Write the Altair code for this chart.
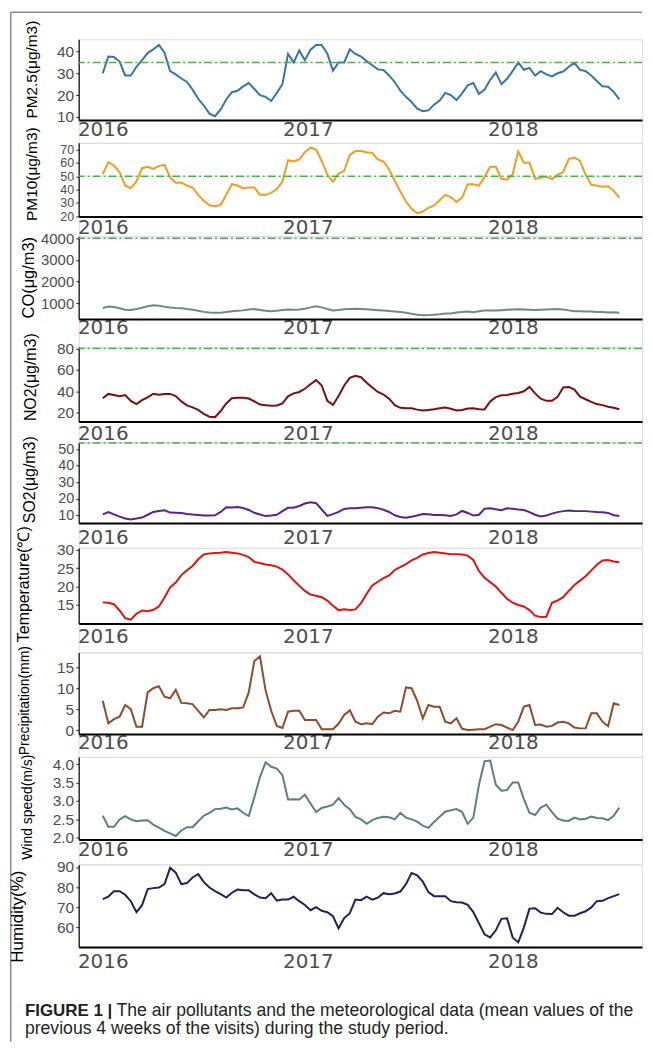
import altair as alt
import pandas as pd

# ---------------- data (10-day sampling grid) ----------------
START = "2016-01-01"
N_POINTS = 93
dates = pd.date_range(START, periods=N_POINTS, freq="10D")
years = [2016 + (d - pd.Timestamp(START)).days / 365.25 for d in dates]

pm25 = [30, 37.7, 37.5, 35.4, 29, 29, 33, 36, 39.3, 41, 43, 39.5, 31, 29.5, 27.6, 26, 22.5, 18.3, 15.2, 11.5,
        10.3, 13.4, 18, 21.3, 22, 24, 25.5, 22.8, 20, 19.2, 17.3, 21, 25, 38.9, 35, 40.5, 36, 40.8, 43, 43,
        39, 31.2, 35, 35, 41, 38.9, 37.7, 35.6, 33.7, 31.8, 31.5, 29, 26, 22, 19.2, 16.8, 13.8, 12.6, 13, 15.6,
        17.5, 21, 20, 17.7, 20.8, 24.5, 25.5, 20.5, 22.5, 27, 30.4, 25, 27.5, 31, 35, 31.6, 32.5, 29, 31, 29.5,
        28.6, 30, 30.8, 33, 34.8, 31.6, 31, 29, 26.5, 24, 23.8, 21.5, 18]
pm10 = [51.5, 60.5, 58, 53, 43, 41, 46, 56, 57, 55.5, 57.7, 58.5, 49, 45, 45.2, 43, 41.5, 36, 31.5, 28.2,
        27.4, 28.5, 36, 44, 43, 40.8, 41.6, 41.5, 36, 36, 37.5, 40.4, 46, 62, 61, 62.5, 68, 71.5, 70, 61.4,
        51, 46, 52, 54, 66, 68.8, 68.8, 68, 67.5, 62.6, 61, 55, 46.6, 38.5, 31, 25.5, 22.2, 23.5, 26.3, 28.1,
        32, 36, 34.3, 30.6, 34, 44, 44, 42.9, 49.5, 57, 57, 48, 47.5, 51.5, 68.5, 60, 60, 48, 49, 49.5,
        47.8, 51, 53, 63, 64, 61.4, 51, 43.5, 43, 42, 42.5, 39, 34]
co = [770, 840, 820, 760, 690, 680, 720, 780, 850, 900, 880, 830, 790, 770, 760, 720, 690, 640, 590, 560,
      550, 545, 580, 620, 640, 660, 700, 720, 680, 640, 620, 640, 680, 700, 690, 700, 740, 800, 850, 800,
      720, 660, 680, 710, 720, 730, 720, 710, 690, 670, 650, 630, 610, 580, 550, 500, 460, 430, 440, 460,
      480, 510, 520, 560, 590, 610, 570, 620, 650, 650, 650, 670, 690, 700, 710, 700, 690, 680, 690, 700,
      710, 720, 700, 660, 620, 620, 610, 610, 590, 580, 560, 570, 550]
no2 = [33.5, 37.5, 36.5, 35.3, 36.5, 31, 28, 31.6, 34.2, 37.7, 36.8, 37.5, 37.5, 35.5, 30.5, 26.8, 24.9, 22.5,
       18.8, 16.2, 15.8, 21.5, 28.6, 33.5, 34, 34, 33.2, 30.5, 27.5, 27, 26.5, 26.7, 28.6, 35.2, 38, 39.3,
       42.3, 46.5, 50.4, 45.4, 31, 27.2, 35.5, 45.4, 52.5, 54.5, 53.1, 48, 43.5, 39.3, 36.9, 33, 27, 24.5,
       24, 24, 22.8, 22, 22.5, 23.1, 24, 24.7, 23.6, 22, 22.5, 23.8, 24, 23.1, 23, 30.5, 34.5, 36.2, 36.5,
       37.6, 38.4, 40, 44, 38, 33, 31, 31, 34.7, 43.5, 44, 41.5, 35, 32.5, 30.1, 28, 27, 25.5, 24.5, 23.2]
so2 = [10.5, 11.9, 10.5, 9.2, 8, 7.5, 8, 8.6, 10.3, 12, 12.6, 13, 11.6, 11.5, 11.3, 10.8, 10.4, 10.2, 9.9, 9.9,
       10, 12, 14.9, 14.7, 15, 14.4, 13.2, 11.5, 10.5, 9.5, 9.8, 10.3, 12.5, 14.5, 14.6, 15.6, 17.1, 17.9,
       17.3, 13.5, 9.6, 10.7, 12, 13.8, 14.2, 14.2, 14.5, 14.8, 14.8, 14.3, 13.3, 12, 10, 9, 8.5, 9.1, 9.9,
       10.8, 10.6, 10.1, 10.2, 10, 9.6, 10.5, 12.6, 11.4, 9.8, 10.3, 13.9, 14.2, 13.6, 13.1, 14.2, 14, 13.5,
       13.2, 11.9, 10.3, 9.3, 9.9, 11, 11.9, 12.5, 12.9, 12.6, 12.5, 12.5, 12.2, 11.9, 11.8, 11.4, 10, 9.5]
temp = [15.7, 15.6, 15.2, 13.5, 11.4, 11, 12.6, 13.5, 13.3, 13.7, 14.6, 17, 19.8, 21.1, 23.1, 24.4, 25.6, 27.4,
        28.7, 29, 29.1, 29.2, 29.4, 29.2, 29, 28.6, 28, 26.7, 26.4, 26, 25.8, 25.4, 24.6, 23.3, 21.7, 20.2,
        18.8, 17.8, 17.5, 17.1, 16.2, 14.8, 13.6, 13.8, 13.6, 13.8, 15.5, 18, 20.3, 21.3, 22.3, 23, 24.5,
        25.3, 26.1, 27.1, 27.8, 28.7, 29.1, 29.4, 29.2, 29, 28.8, 28.8, 28.7, 28.4, 27.2, 24.2, 22.4, 21.2,
        20, 18.3, 16.7, 15.6, 15, 14.6, 13.6, 12.1, 11.7, 11.8, 15.6, 16.2, 17.1, 18.8, 20.4, 21.6, 22.8,
        24.4, 25.9, 27.1, 27.2, 26.8, 26.6]
precip = [7, 1.6, 2.6, 3.2, 6, 5, 0.8, 0.8, 9, 10, 10.5, 8, 7.6, 9.6, 6.5, 6.4, 6.2, 4.6, 3, 4.8, 4.8, 5, 4.8,
          5.2, 5.2, 5.4, 9, 16.5, 17.6, 9.5, 4.6, 1, 0.5, 4.4, 4.6, 4.6, 2.4, 2.4, 2.4, 0.2, 0.2, 0.2, 1.5,
          3.6, 4.7, 2, 1.4, 1.6, 1.4, 3.2, 4.2, 4, 4.6, 4.4, 10.2, 10, 7, 2.8, 6, 5.6, 5.6, 2, 1.6, 2.8, 0.3,
          0, 0.1, 0.2, 0.2, 0.8, 1.4, 1.2, 0.6, 0, 2, 5.6, 6, 1.2, 1.3, 0.8, 1, 1.8, 2, 1.6, 0.6, 0.4, 0.4,
          4, 4, 2, 0.9, 6.4, 6]
wind = [2.6, 2.3, 2.3, 2.5, 2.59, 2.5, 2.45, 2.47, 2.48, 2.36, 2.28, 2.19, 2.12, 2.05, 2.2, 2.29, 2.29, 2.45,
        2.6, 2.68, 2.78, 2.79, 2.82, 2.77, 2.8, 2.68, 2.59, 3.1, 3.65, 4.05, 3.93, 3.88, 3.7, 3.04, 3.05,
        3.04, 3.17, 2.93, 2.7, 2.81, 2.85, 2.9, 3.08, 2.9, 2.78, 2.57, 2.5, 2.38, 2.48, 2.54, 2.57, 2.56,
        2.5, 2.68, 2.55, 2.5, 2.44, 2.33, 2.27, 2.43, 2.57, 2.71, 2.75, 2.78, 2.7, 2.38, 2.55, 3.44, 4.08,
        4.1, 3.44, 3.28, 3.3, 3.5, 3.5, 3.05, 2.68, 2.62, 2.82, 2.9, 2.7, 2.52, 2.47, 2.46, 2.55, 2.5, 2.52,
        2.58, 2.54, 2.53, 2.48, 2.6, 2.82]
humid = [74, 75.3, 78, 78, 76.2, 73, 67.5, 71, 79, 79.5, 79.8, 81.5, 89.6, 87.2, 81.5, 82, 84.8, 86.5, 82.5,
         79.8, 78, 76.5, 74.8, 77.2, 78.8, 78.5, 78.4, 76.4, 74.8, 74.5, 77, 73.3, 73.8, 73.8, 75.2, 73,
         71.1, 68.5, 70, 68.2, 67.5, 65.5, 59.5, 64.6, 67, 73.8, 73.5, 75.3, 73.8, 74.8, 77, 76.5, 76.8,
         77.8, 81.5, 87, 85.9, 82.7, 77.5, 75.5, 75.4, 75.4, 73, 72.5, 72.3, 71.2, 67.6, 62, 56.5, 55, 58.5,
         64.2, 64.5, 55, 52.5, 60, 69.3, 69.5, 67.3, 66.7, 66.6, 69.7, 67.5, 65.8, 65.7, 67, 68, 69.9, 73,
         73.2, 74.5, 75.5, 76.5]

year_ticks = [2016, 2017, 2018]

# ---------------- layout (page pixels) ----------------
PLOT_LEFT = 77
PLOT_RIGHT = 643
W = PLOT_RIGHT - PLOT_LEFT
X_DOMAIN = [2015.8826, 2018.6294]
FONT = "Liberation Sans"

panels = [
    dict(title="PM2.5(μg/m3)", vals=pm25, color="#3774AA", dom=[8.6, 45.6], ticks=[10, 20, 30, 40],
         hline=35, top=36, h=81, slot=104, xlab=10, tx=30, ty=66, tfs=15.5, lfs=15.5),
    dict(title="PM10(μg/m3)", vals=pm10, color="#F39C1F", dom=[19.8, 75], ticks=[20, 30, 40, 50, 60, 70],
         hline=50, top=140, h=74, slot=94, xlab=11, tx=30, ty=171, tfs=15.5, lfs=12.5),
    dict(title="CO(μg/m3)", vals=co, color="#6F8A85", dom=[261, 4092], ticks=[1000, 2000, 3000, 4000],
         hline=4000, top=234, h=83, slot=111, xlab=9, tx=27, ty=275, tfs=16.5, lfs=15),
    dict(title="NO2(μg/m3)", vals=no2, color="#7A0F12", dom=[11.7, 81.5], ticks=[20, 40, 60, 80],
         hline=80, top=345, h=75, slot=96, xlab=12, tx=29, ty=375, tfs=16, lfs=15.5),
    dict(title="SO2(μg/m3)", vals=so2, color="#5A2389", dom=[5.3, 54.1], ticks=[10, 20, 30, 40, 50],
         hline=53.7, top=441, h=81, slot=106, xlab=15, tx=27.5, ty=478, tfs=16, lfs=14.5),
    dict(title="Temperature(℃)", vals=temp, color="#DC1414", dom=[9.95, 30.49], ticks=[15, 20, 25, 30],
         hline=None, top=547, h=76, slot=105, xlab=13, tx=22, ty=583, tfs=16, lfs=15.5),
    dict(title="Precipitation(mm)", vals=precip, color="#8E4B2E", dom=[-0.95, 18.57], ticks=[0, 5, 10, 15],
         hline=None, top=652, h=82, slot=105, xlab=9, tx=23, ty=700, tfs=14, lfs=15.5),
    dict(title="Wind speed(m/s)", vals=wind, color="#5E7E86", dom=[1.954, 4.197], ticks=[2.0, 2.5, 3.0, 3.5, 4.0],
         hline=None, top=757, h=83, slot=108, xlab=10, tx=26, ty=807, tfs=14, lfs=15.5, fmt=".1f"),
    dict(title="Humidity(%)", vals=humid, color="#1B2457", dom=[50.2, 91.3], ticks=[60, 70, 80, 90],
         hline=None, top=865, h=83, slot=83, xlab=15, tx=16, ty=917, tfs=17, lfs=15.5),
]

one_row = alt.Data(values=[{"k": 1}])


def make_panel(i, p):
    vals = p["vals"]
    df = pd.DataFrame({"year": years[:len(vals)], "value": vals})
    h, slot = p["h"], p["slot"]
    x_axis = alt.Axis(values=year_ticks, format="d", title=None, ticks=False, grid=False, tickCount=20,
                      domainColor="black", domainWidth=2, labelFont="DejaVu Sans", labelFontSize=20,
                      labelColor="#4d4d4d", labelBaseline="middle", labelPadding=p["xlab"],
                      labelOverlap=False, labelFlush=False, offset=-(slot - h))
    y_axis = alt.Axis(values=p["ticks"], tickCount=20, format=p.get("fmt", "d"), title=p["title"],
                      titleFont=FONT, titleFontSize=p["tfs"], titleFontWeight="normal", titleColor="black",
                      titleAngle=270, titleAlign="center", titleBaseline="middle",
                      titleX=p["tx"] - PLOT_LEFT, titleY=p["ty"] - p["top"], grid=False,
                      tickSize=3, tickColor="#333333", domainColor="black", domainWidth=1.2,
                      labelFont=FONT, labelFontSize=p["lfs"], labelColor="#4d4d4d", labelPadding=2,
                      labelOverlap=False)
    line = alt.Chart(df).mark_line(color=p["color"], strokeWidth=2).encode(
        x=alt.X("year:Q", scale=alt.Scale(domain=X_DOMAIN, nice=False, zero=False), axis=x_axis),
        y=alt.Y("value:Q", scale=alt.Scale(domain=p["dom"], range=[h, 0], nice=False, zero=False),
                axis=y_axis),
    )
    layers = [line]
    if p["hline"] is not None:
        layers.append(
            alt.Chart(alt.Data(values=[{"v": p["hline"]}])).mark_rule(
                color="#4daf4a", strokeWidth=1.5, strokeDash=[8, 3, 2, 3]).encode(y="v:Q"))
    if i == 0:
        bx = 8.75 - PLOT_LEFT
        by = 8.75 - p["top"]
        layers.append(alt.Chart(one_row).mark_rule(color="#8a8a8a", strokeWidth=1.5).encode(
            x=alt.value(bx), x2=alt.value(W), y=alt.value(by)))
        layers.append(alt.Chart(one_row).mark_rule(color="#8a8a8a", strokeWidth=1.5).encode(
            x=alt.value(bx), y=alt.value(by), y2=alt.value(1043 - p["top"])))
    if i == len(panels) - 1:
        cap = dict(font=FONT, color="#231f20", align="left", baseline="alphabetic")
        layers.append(alt.Chart(one_row).mark_text(fontWeight="bold", fontSize=17, **cap).encode(
            x=alt.value(23 - PLOT_LEFT), y=alt.value(1017 - p["top"]), text=alt.value("FIGURE 1 |")))
        layers.append(alt.Chart(one_row).mark_text(fontSize=17.7, **cap).encode(
            x=alt.value(115 - PLOT_LEFT), y=alt.value(1017 - p["top"]),
            text=alt.value("The air pollutants and the meteorological data (mean values of the")))
        layers.append(alt.Chart(one_row).mark_text(fontSize=17.7, **cap).encode(
            x=alt.value(23 - PLOT_LEFT), y=alt.value(1035.5 - p["top"]),
            text=alt.value("previous 4 weeks of the visits) during the study period.")))
    return alt.layer(*layers).properties(width=W, height=slot)


chart = alt.vconcat(*[make_panel(i, p) for i, p in enumerate(panels)], spacing=0, bounds="flush").properties(
    padding=0
).configure_view(stroke=None).configure(font=FONT, background="white")

chart.save("out.html", embed_options={"renderer": "svg", "actions": False})
